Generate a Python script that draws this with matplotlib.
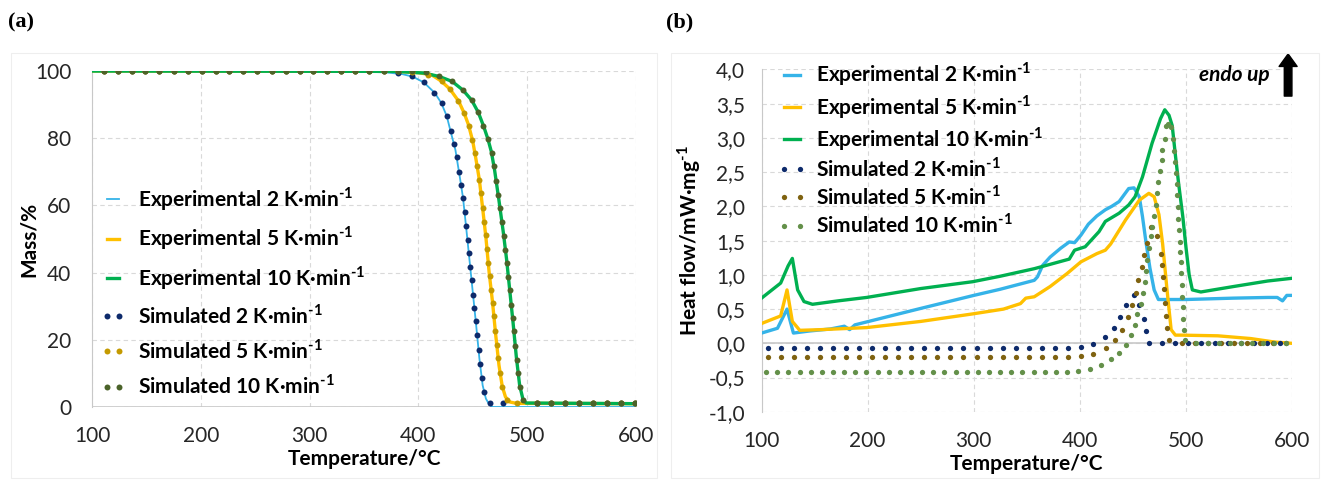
import matplotlib
matplotlib.use("Agg")
import matplotlib.pyplot as plt
from matplotlib.lines import Line2D
from matplotlib.patches import Rectangle
from matplotlib.ticker import FuncFormatter

plt.rcParams['font.family'] = ['Lato', 'DejaVu Sans']
plt.rcParams['mathtext.fontset'] = 'custom'
plt.rcParams['mathtext.rm'] = 'Lato:bold'
plt.rcParams['mathtext.bf'] = 'Lato:bold'

# ---------------- TGA (mass loss) ----------------
exp2_T = [100, 340, 370, 385, 395, 405, 415, 421, 426, 430, 434, 438, 441, 444, 447, 450, 453, 456, 459, 462, 465, 468, 600]
exp2_m = [100, 99.9, 99.6, 99.1, 98.3, 96.6, 93.5, 90.5, 86.6, 81.5, 76.5, 68.5, 62.2, 53, 43.5, 34, 24.5, 14.5, 6.5, 2.5, 0.8, 0, 0]

exp5_T = [100, 380, 400, 412, 421, 429, 437, 442, 446, 450, 453, 456, 459, 462, 465, 468, 471, 474, 477, 480, 484, 490, 600]
exp5_m = [100, 99.9, 99.5, 98.9, 97, 94.6, 91, 87.5, 84, 79, 73.5, 67.6, 59.2, 50.5, 40, 31.5, 21.5, 12.5, 6.2, 3, 1.5, 1.1, 1.0]

exp10_T = [100, 380, 405, 419, 431, 441, 449, 455, 460, 464, 467, 470, 474, 478, 481, 484, 487, 490, 493, 496, 499, 600]
exp10_m = [100, 99.9, 99.4, 98.4, 96.9, 94.3, 91.3, 87.7, 83.5, 79.6, 76, 70.5, 61.5, 52, 44, 34.5, 25, 14.8, 6.5, 2.4, 1.2, 1.0]

sim2_T = [111, 124, 137, 149, 162, 175, 188, 201, 214, 226, 239, 252, 265, 278, 291, 303, 316, 329, 342, 355,
          368, 381, 394.5, 405.5, 414.7, 421.4, 426.3, 429.6, 433.0, 435.4, 437.3, 439.1, 441.0, 442.5, 443.7,
          445.2, 446.4, 447.7, 448.9, 450.1, 451.4, 452.9, 454.1, 455.3, 456.5, 458.3, 459.9, 465.7, 478.0,
          509, 522, 535, 548, 560, 573, 586, 599]
sim2_m = [100, 100, 100, 100, 100, 100, 100, 100, 100, 100, 100, 100, 100, 100, 100, 100, 100, 100, 100, 100,
          99.9, 99.5, 98.4, 96.6, 93.6, 90.5, 86.5, 82.3, 78.3, 74.4, 70.1, 66.2, 62.2, 57.9, 54.0,
          49.8, 45.8, 41.7, 37.7, 33.4, 29.5, 25.5, 21.3, 17.1, 12.9, 8.6, 4.6, 1.2, 1.1,
          1.1, 1.1, 1.1, 1.1, 1.1, 1.1, 1.1, 1.1]

sim5_T = [111, 124, 137, 149, 162, 175, 188, 201, 214, 226, 239, 252, 265, 278, 291, 303, 316, 329, 342, 355,
          368, 381, 394, 408.6, 421.3, 429.0, 436.7, 442.2, 446.4, 449.5, 451.9, 454.1, 456.0, 457.4, 459.0,
          460.2, 461.7, 462.9, 464.2, 465.4, 466.6, 468.2, 469.4, 470.6, 471.8, 473.4, 474.9, 477.1, 481.0,
          490.2, 509, 522, 535, 548, 560, 573, 586, 599]
sim5_m = [100, 100, 100, 100, 100, 100, 100, 100, 100, 100, 100, 100, 100, 100, 100, 100, 100, 100, 100, 100,
          100, 99.9, 99.6, 98.9, 97.0, 94.6, 91.0, 87.5, 83.5, 79.6, 75.6, 71.6, 67.6, 63.7, 59.2,
          55.2, 51.3, 47.1, 42.9, 38.9, 34.9, 31.0, 27.0, 22.5, 18.5, 14.6, 10.1, 6.1, 2.2,
          1.2, 1.1, 1.1, 1.1, 1.1, 1.1, 1.1, 1.1, 1.1]

sim10_T = [111, 124, 137, 149, 162, 175, 188, 201, 214, 226, 239, 252, 265, 278, 291, 303, 316, 329, 342, 355,
           368, 381, 394, 407, 418.9, 430.6, 440.6, 448.9, 455.0, 459.6, 463.6, 467.2, 469.4, 471.6, 473.4,
           475.2, 477.1, 478.3, 479.8, 481.3, 482.6, 484.0, 485.3, 486.5, 487.7, 489.0, 490.2, 491.7, 493.2,
           496.3, 509, 522, 535, 548, 560, 573, 586, 599]
sim10_m = [100, 100, 100, 100, 100, 100, 100, 100, 100, 100, 100, 100, 100, 100, 100, 100, 100, 100, 100, 100,
           100, 100, 99.9, 99.7, 98.4, 96.9, 94.4, 91.3, 87.7, 83.7, 79.8, 75.6, 71.6, 67.4, 63.2,
           59.2, 55.2, 51.0, 46.8, 42.9, 38.7, 34.7, 30.4, 26.5, 22.5, 18.3, 14.1, 10.1, 6.1,
           2.2, 1.1, 1.1, 1.1, 1.1, 1.1, 1.1, 1.1, 1.1]

# ---------------- DSC (heat flow) ----------------
hf2_T = [100, 115, 124, 130, 145, 165, 178, 183, 188, 250, 300, 325, 357, 360, 365, 372, 382, 390, 395, 401,
         408, 416, 424, 430, 437, 446, 451, 456, 459, 462, 466, 470, 474, 500, 545, 577, 586, 591, 595, 600]
hf2 = [0.15, 0.22, 0.50, 0.15, 0.18, 0.21, 0.25, 0.20, 0.27, 0.51, 0.70, 0.79, 0.92, 0.97, 1.14, 1.26, 1.39, 1.48, 1.47, 1.58,
       1.74, 1.86, 1.95, 2.0, 2.07, 2.26, 2.27, 2.14, 1.85, 1.51, 1.10, 0.78, 0.64, 0.64, 0.66, 0.67, 0.67, 0.62, 0.70, 0.70]

hf5_T = [100, 118, 124, 129, 136, 156, 199, 250, 299, 328, 344, 349, 357, 372, 388, 401, 416, 424, 429, 443,
         456, 465, 470, 474.5, 478, 482, 486, 490, 495, 530, 561, 583, 600]
hf5 = [0.29, 0.40, 0.78, 0.32, 0.19, 0.20, 0.23, 0.32, 0.43, 0.50, 0.58, 0.66, 0.68, 0.83, 1.02, 1.19, 1.31, 1.36, 1.45, 1.80,
       2.09, 2.19, 2.14, 1.88, 1.45, 0.80, 0.20, 0.12, 0.12, 0.11, 0.07, 0.02, 0.0]

hf10_T = [100, 118, 125, 129, 134, 140, 148, 172, 199, 250, 299, 325, 357, 390, 395, 405, 418, 424, 437, 446,
          452, 459, 468, 476, 480, 484, 487, 490, 493, 497, 500, 503, 506, 514, 545, 577, 600]
hf10 = [0.66, 0.88, 1.13, 1.24, 0.78, 0.61, 0.57, 0.62, 0.67, 0.80, 0.90, 0.98, 1.09, 1.23, 1.36, 1.41, 1.63, 1.78, 1.90, 2.02,
        2.14, 2.43, 2.92, 3.28, 3.41, 3.33, 3.18, 2.75, 2.34, 1.85, 1.40, 1.00, 0.78, 0.75, 0.83, 0.91, 0.95]

dsc2_T = [105.8, 118.1, 130.4, 142.7, 155.0, 167.3, 179.6, 191.9, 204.2, 216.5, 228.8, 241.1, 253.4, 265.7,
          278.0, 290.3, 302.6, 314.9, 327.2, 339.5, 351.8, 364.1, 376.4, 388.7, 401.0, 412.3, 423.3, 432.1,
          437.7, 443.8, 450.9, 455.7, 460.4, 462.6, 465.1, 477.7, 490.0, 502.3, 514.6, 526.9, 539.2, 551.5,
          563.8, 576.1, 588.4]
dsc2 = [-0.07, -0.07, -0.07, -0.07, -0.07, -0.07, -0.07, -0.07, -0.07, -0.07, -0.07, -0.07, -0.07, -0.07,
        -0.07, -0.07, -0.07, -0.07, -0.07, -0.07, -0.07, -0.07, -0.07, -0.07, -0.05, -0.01, 0.09, 0.22,
        0.39, 0.56, 0.71, 0.56, 0.36, 0.18, 0.0, 0.0, 0.0, 0.0, 0.0, 0.0, 0.0, 0.0,
        0.0, 0.0, 0.0]

dsc5_T = [105.8, 118.1, 130.4, 142.7, 155.0, 167.3, 179.6, 191.9, 204.2, 216.5, 228.8, 241.1, 253.4, 265.7,
          278.0, 290.3, 302.6, 314.9, 327.2, 339.5, 351.8, 364.1, 376.4, 388.7, 401.0, 412.3, 424.2, 433.0,
          439.3, 445.0, 448.8, 452.5, 455.1, 458.2, 460.4, 463.6, 467.0, 473.0, 476.1, 477.7, 478.3, 479.2,
          480.2, 480.8, 482.5, 484.0, 496.3, 508.6, 520.9, 533.2, 545.5, 557.8, 570.1, 582.4, 594.7]
dsc5 = [-0.20, -0.20, -0.20, -0.20, -0.20, -0.20, -0.20, -0.20, -0.20, -0.20, -0.20, -0.20, -0.20, -0.20,
        -0.20, -0.20, -0.20, -0.20, -0.20, -0.20, -0.20, -0.20, -0.20, -0.20, -0.18, -0.15, -0.07, 0.05,
        0.20, 0.38, 0.56, 0.74, 0.92, 1.11, 1.29, 1.46, 1.70, 1.56, 1.31, 1.14, 0.97, 0.79,
        0.59, 0.40, 0.22, 0.05, 0.0, 0.0, 0.0, 0.0, 0.0, 0.0, 0.0, 0.0, 0.0]

dsc10_T = [104.3, 114.8, 125.3, 135.8, 146.3, 156.8, 167.3, 177.8, 188.3, 198.8, 209.3, 219.8, 230.3, 240.8,
           251.3, 261.8, 272.3, 282.8, 293.3, 303.8, 314.3, 324.8, 335.3, 345.8, 356.3, 366.8, 377.3, 387.8,
           398.3, 409.2, 419.5, 429.0, 436.8, 443.1, 447.8, 451.9, 454.1, 457.3, 459.4, 461.3, 462.0, 463.5,
           465.5, 467.3, 468.3, 469.8, 471.4, 473.0, 474.0, 475.2, 477.1, 477.7, 479.9, 481.5, 483.2, 485.6,
           487.7, 488.7, 489.6, 491.0, 491.2, 491.9, 492.2, 492.8, 493.4, 494.0, 494.6, 495.0, 495.6, 496.0,
           496.6, 497.2, 497.6, 498.1, 499.1, 509.8, 520.3, 530.8, 541.3, 551.8, 562.3, 572.8, 583.3, 593.8]
dsc10 = [-0.42, -0.42, -0.42, -0.42, -0.42, -0.42, -0.42, -0.42, -0.42, -0.42, -0.42, -0.42, -0.42, -0.42,
         -0.42, -0.42, -0.42, -0.42, -0.42, -0.42, -0.42, -0.42, -0.42, -0.42, -0.42, -0.42, -0.42, -0.42,
         -0.41, -0.37, -0.32, -0.23, -0.14, -0.02, 0.12, 0.27, 0.43, 0.58, 0.74, 0.90, 1.06, 1.22,
         1.39, 1.56, 1.70, 1.86, 2.02, 2.19, 2.36, 2.52, 2.68, 2.83, 2.99, 3.17, 3.20, 3.16,
         2.98, 2.81, 2.65, 2.49, 2.33, 2.17, 1.99, 1.82, 1.65, 1.48, 1.33, 1.19, 1.02, 0.85,
         0.68, 0.53, 0.36, 0.20, 0.05, 0.0, 0.0, 0.0, 0.0, 0.0, 0.0, 0.0, 0.0, 0.0]

labels = ['Experimental 2 K·min$^{\\text{-1}}$', 'Experimental 5 K·min$^{\\text{-1}}$',
          'Experimental 10 K·min$^{\\text{-1}}$', 'Simulated 2 K·min$^{\\text{-1}}$',
          'Simulated 5 K·min$^{\\text{-1}}$', 'Simulated 10 K·min$^{\\text{-1}}$']

c_exp = ['#35b3e8', '#ffc000', '#00b050']
c_sim_a = ['#0d2a6b', '#c49a00', '#4b6329']
c_sim_b = ['#0d2a6b', '#7f6210', '#64904a']
grid_c = '#d9d9d9'
ax_c = '#c8c8c8'
fs = 15

fig = plt.figure(figsize=(13.24, 4.8), dpi=100)

# faint chart-area borders
for x0, w in [(0.008, 0.488), (0.507, 0.489)]:
    fig.patches.append(Rectangle((x0, 0.005), w, 0.885, transform=fig.transFigure,
                                 fill=False, edgecolor='#eeeeee', lw=0.8))

axa = fig.add_axes([0.0695, 0.152, 0.4109, 0.700])
axb = fig.add_axes([0.5752, 0.142, 0.4007, 0.7135])


def style(ax):
    for s in ['top', 'right', 'bottom']:
        ax.spines[s].set_visible(False)
    ax.spines['left'].set_color(ax_c)
    ax.grid(True, color=grid_c, ls=(0, (4, 3)), lw=0.8)
    ax.set_axisbelow(True)
    ax.tick_params(length=0, labelsize=fs, colors='#262626')
    ax.tick_params(axis='x', pad=14)
    ax.tick_params(axis='y', pad=15)
    ax.set_xlim(100, 600)
    ax.set_xticks([100, 200, 300, 400, 500, 600])
    ax.set_xlabel('Temperature/°C', fontsize=fs, fontweight='bold', labelpad=2)


# (a) mass
style(axa)
axa.set_ylim(0, 100)
axa.set_yticks([0, 20, 40, 60, 80, 100])
axa.axhline(0, color=ax_c, lw=1.2, zorder=1)
axa.set_ylabel('Mass/%', fontsize=fs, fontweight='bold', labelpad=-3)

axa.plot(exp2_T, exp2_m, color=c_exp[0], lw=1.3, zorder=3)
axa.plot(exp5_T, exp5_m, color=c_exp[1], lw=2.4, zorder=3)
axa.plot(exp10_T, exp10_m, color=c_exp[2], lw=2.4, zorder=3)
axa.plot(sim2_T, sim2_m, 'o', color=c_sim_a[0], ms=4.3, mew=0, zorder=4)
axa.plot(sim5_T, sim5_m, 'o', color=c_sim_a[1], ms=4.3, mew=0, zorder=4)
axa.plot(sim10_T, sim10_m, 'o', color=c_sim_a[2], ms=4.3, mew=0, zorder=4)

ha = [Line2D([], [], color=c_exp[0], lw=1.3), Line2D([], [], color=c_exp[1], lw=2.4),
      Line2D([], [], color=c_exp[2], lw=2.4)] + \
     [Line2D([], [], ls='none', marker='o', color=c, ms=4.3, mew=0) for c in c_sim_a]
axa.legend(ha, labels, loc='upper left', bbox_to_anchor=(0.0, 0.685), frameon=False, numpoints=2,
           prop={'weight': 'bold', 'size': fs}, handlelength=1.2, handletextpad=0.6,
           labelspacing=0.55, borderaxespad=0)

# (b) heat flow
style(axb)
axb.set_ylim(-1.0, 4.0)
axb.set_yticks([-1.0, -0.5, 0.0, 0.5, 1.0, 1.5, 2.0, 2.5, 3.0, 3.5, 4.0])
axb.yaxis.set_major_formatter(FuncFormatter(lambda v, p: ('%.1f' % v).replace('.', ',')))
axb.tick_params(axis='y', pad=12)
axb.axhline(0, color=ax_c, lw=1.2, zorder=1)
axb.set_ylabel('Heat flow/mW·mg$^{\\text{-1}}$', fontsize=fs, fontweight='bold', labelpad=4)

axb.plot(hf2_T, hf2, color=c_exp[0], lw=2.4, zorder=3)
axb.plot(hf5_T, hf5, color=c_exp[1], lw=2.4, zorder=3)
axb.plot(hf10_T, hf10, color=c_exp[2], lw=2.4, zorder=3)
axb.plot(dsc2_T, dsc2, 'o', color=c_sim_b[0], ms=3.8, mew=0, zorder=4)
axb.plot(dsc5_T, dsc5, 'o', color=c_sim_b[1], ms=3.8, mew=0, zorder=4)
axb.plot(dsc10_T, dsc10, 'o', color=c_sim_b[2], ms=3.8, mew=0, zorder=4)

hb = [Line2D([], [], color=c, lw=2.4) for c in c_exp] + \
     [Line2D([], [], ls='none', marker='o', color=c, ms=3.8, mew=0) for c in c_sim_b]
axb.legend(hb, labels, loc='upper left', bbox_to_anchor=(0.014, 1.05), frameon=False, numpoints=2,
           prop={'weight': 'bold', 'size': fs}, handlelength=1.4, handletextpad=0.45,
           labelspacing=0.2, borderaxespad=0)

axb.text(0.9585, 0.984, 'endo up', transform=axb.transAxes, ha='right', va='center',
         fontsize=fs, fontweight='bold', fontstyle='italic')
axb.annotate('', xy=(0.9925, 1.045), xytext=(0.9925, 0.922), xycoords='axes fraction',
             arrowprops=dict(arrowstyle='simple,head_width=1.3,head_length=0.9,tail_width=0.55',
                             color='black', shrinkA=0, shrinkB=0), annotation_clip=False)

fig.text(0.006, 0.953, '(a)', fontsize=16, fontweight='bold', family='Liberation Serif', va='center')
fig.text(0.503, 0.953, '(b)', fontsize=16, fontweight='bold', family='Liberation Serif', va='center')

fig.savefig('out.png', dpi=100)
